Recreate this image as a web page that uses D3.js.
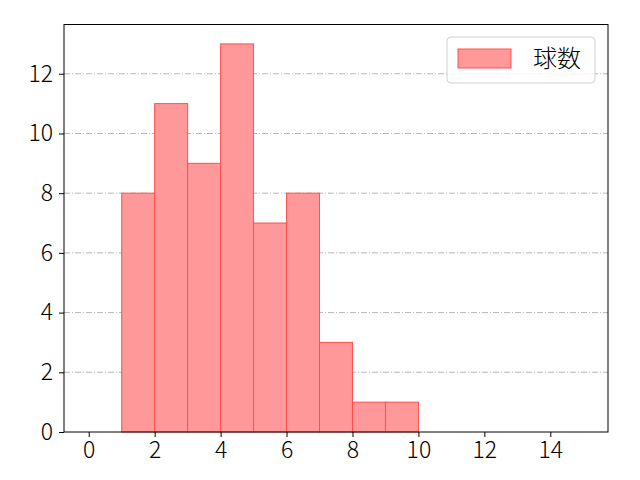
<!DOCTYPE html>
<html>
<head>
<meta charset="utf-8">
<script src="https://cdn.jsdelivr.net/npm/d3@7"></script>
<style>
  body { margin: 0; background: #fff; }
  text { font-family: "Noto Sans CJK JP", "DejaVu Sans", sans-serif; }
</style>
</head>
<body>
<script>
// histogram bins (left edge) and counts
const binStarts = [1, 2, 3, 4, 5, 6, 7, 8, 9]
const counts = [8, 11, 9, 13, 7, 8, 3, 1, 1]
const xTicks = [0, 2, 4, 6, 8, 10, 12, 14]
const yTicks = [0, 2, 4, 6, 8, 10, 12]
const legendLabel = "球数"

const width = 640, height = 480
const plotLeft = 64, plotRight = 608, plotTop = 24.5, plotBottom = 432

const svg = d3.select('body').append('svg')
  .attr('width', width)
  .attr('height', height)

const x = d3.scaleLinear().domain([-0.75, 15.75]).range([plotLeft, plotRight])
const y = d3.scaleLinear().domain([0, 13.65]).range([plotBottom, plotTop])

// grid
svg.append('g').selectAll('line').data(yTicks.slice(1)).enter().append('line')
  .attr('x1', plotLeft).attr('x2', plotRight)
  .attr('y1', d => y(d)).attr('y2', d => y(d))
  .style('stroke', '#b0b0b0')
  .style('stroke-width', 0.9)
  .style('stroke-dasharray', '6,2,1,2')

// bars
svg.append('g').selectAll('rect').data(binStarts).enter().append('rect')
  .attr('x', d => x(d))
  .attr('y', (d, i) => y(counts[i]))
  .attr('width', d => x(d + 1) - x(d))
  .attr('height', (d, i) => y(0) - y(counts[i]))
  .style('fill', '#ff9999')
  .style('stroke', '#ff5050')
  .style('stroke-width', 1)

// axes
const xAxis = d3.axisBottom(x).tickValues(xTicks).tickSize(5).tickPadding(5).tickFormat(d3.format('d'))
const yAxis = d3.axisLeft(y).tickValues(yTicks).tickSize(5).tickPadding(6).tickFormat(d3.format('d'))

const gx = svg.append('g').attr('transform', `translate(0,${plotBottom})`).call(xAxis)
const gy = svg.append('g').attr('transform', `translate(${plotLeft},0)`).call(yAxis)
;[gx, gy].forEach(g => {
  g.select('.domain').remove()
  g.selectAll('text').style('font-size', '23px').style('fill', '#000')
    .style('font-family', '"Noto Sans CJK JP", "DejaVu Sans", sans-serif')
    .style('font-weight', 300)
  g.selectAll('line').style('stroke', '#000')
})

// frame
svg.append('rect')
  .attr('x', plotLeft).attr('y', plotTop)
  .attr('width', plotRight - plotLeft).attr('height', plotBottom - plotTop)
  .style('fill', 'none').style('stroke', '#000').style('stroke-width', 1)

// legend
const lg = svg.append('g')
lg.append('rect')
  .attr('x', 447).attr('y', 37).attr('width', 148).attr('height', 46).attr('rx', 4)
  .style('fill', 'rgba(255,255,255,0.8)').style('stroke', '#d0d0d0')
lg.append('rect')
  .attr('x', 458).attr('y', 49).attr('width', 53).attr('height', 19)
  .style('fill', '#ff9999').style('stroke', '#ff5050')
lg.append('text')
  .attr('x', 533).attr('y', 67)
  .style('font-size', '24px')
  .style('font-weight', 300)
  .text(legendLabel)
</script>
</body>
</html>
